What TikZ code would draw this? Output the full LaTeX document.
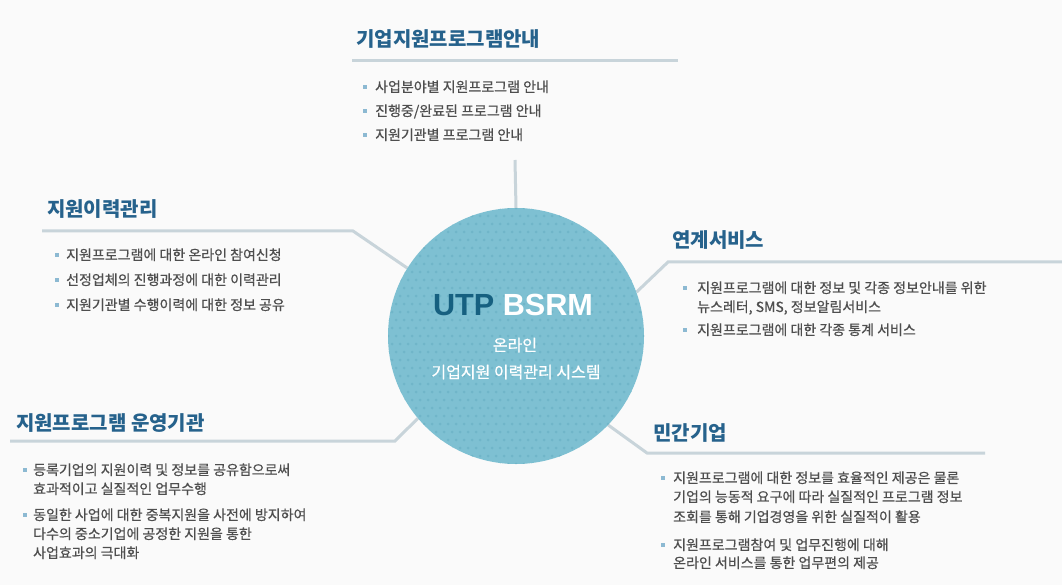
\documentclass[tikz,border=0pt]{standalone}
\usepackage{fontspec}
\setmainfont{Noto Sans CJK KR}
\newfontfamily\bodyfont{Noto Sans CJK KR}[FakeBold=0.6]
\newfontfamily\logofont{Liberation Sans}
\usetikzlibrary{positioning}
\definecolor{titleblue}{RGB}{38,98,140}
\definecolor{bodygray}{RGB}{78,78,78}
\definecolor{rulegray}{RGB}{200,212,218}
\definecolor{bulletblue}{RGB}{140,185,210}
\definecolor{coreblue}{RGB}{126,192,210}
\definecolor{coredot}{RGB}{112,181,201}
\definecolor{utpblue}{RGB}{22,96,128}
\definecolor{paper}{RGB}{250,250,250}

\tikzset{
  heading/.style={anchor=base west, inner sep=0pt, text=titleblue,
    font=\bfseries\fontsize{20bp}{24bp}\selectfont},
  item/.style={anchor=base west, inner sep=0pt, text=bodygray,
    font=\bodyfont\fontsize{14bp}{19bp}\selectfont},
  marker/.style={fill=bulletblue, inner sep=0pt, minimum size=4bp},
  link/.style={draw=rulegray, line width=3bp},
  coretext/.style={anchor=base, inner sep=0pt, text=white,
    font=\bodyfont\fontsize{16bp}{20bp}\selectfont}
}

\begin{document}
\begin{tikzpicture}[x=1bp, y=-1bp]

\useasboundingbox (0,0) rectangle (1062,585);
\fill[paper] (0,0) rectangle (1062,585);

%---------------------------------------
% Connectors
%---------------------------------------
\node[circle, minimum size=256bp, inner sep=0pt] (core) at (516,336) {};

\coordinate (top-w) at (352,61);
\coordinate (top-e) at (678,61);
\coordinate (top-stem) at (515,160);
\draw[link] (top-w) -- (top-e);
\draw[link] (top-stem) -- (core.north);

\coordinate (lu-w) at (42,231);
\coordinate (lu-bend) at (353,231);
\draw[link] (lu-w) -- (lu-bend) -- (core.148);

\coordinate (ll-w) at (10,441);
\coordinate (ll-bend) at (395,441);
\draw[link] (ll-w) -- (ll-bend) -- (core.220);

\coordinate (ru-e) at (1062,262);
\coordinate (ru-bend) at (668,262);
\draw[link] (ru-e) -- (ru-bend) -- (core.20);

\coordinate (rl-e) at (985,453);
\coordinate (rl-bend) at (647,453);
\draw[link] (rl-e) -- (rl-bend) -- (core.-44);

%---------------------------------------
% Centre disc
%---------------------------------------
\fill[coreblue] (core.center) circle[radius=128bp];
\begin{scope}
  \clip (core.center) circle[radius=128bp];
  \foreach \i in {0,...,32}
    \foreach \j in {0,...,32}
      \fill[coredot] ({388+8*\i+4*mod(\j,2)},{208+8*\j}) circle[radius=1.5bp];
\end{scope}

\node[anchor=base, inner sep=0pt,
      font=\logofont\bfseries\fontsize{30.6bp}{36bp}\selectfont] (logo) at (513,316)
      {\textcolor{utpblue}{UTP} \textcolor{white}{BSRM}};
\node[coretext] (sub1) at (515,351) {온라인};
\node[coretext] (sub2) at (516,378) {기업지원 이력관리 시스템};

%---------------------------------------
% Top: programme guide
%---------------------------------------
\node[heading] (guide) at (356,47) {기업지원프로그램안내};
\foreach \y in {87,111,135}
  \node[marker] at (365,\y) {};
\node[item] (guide1) at (375,92) {사업분야별 지원프로그램 안내};
\node[item] (guide2) at (375,116) {진행중/완료된 프로그램 안내};
\node[item] (guide3) at (375,140) {지원기관별 프로그램 안내};

%---------------------------------------
% Left upper: history management
%---------------------------------------
\node[heading] (history) at (47,217) {지원이력관리};
\foreach \y in {255,280,305}
  \node[marker] at (57,\y) {};
\node[item] (history1) at (66,260) {지원프로그램에 대한 온라인 참여신청};
\node[item] (history2) at (66,285) {선정업체의 진행과정에 대한 이력관리};
\node[item] (history3) at (66,310) {지원기관별 수행이력에 대한 정보 공유};

%---------------------------------------
% Right upper: linked services
%---------------------------------------
\node[heading] (service) at (672,248) {연계서비스};
\foreach \y in {288,330}
  \node[marker] at (685,\y) {};
\node[item] (service1a) at (697,293) {지원프로그램에 대한 정보 및 각종 정보안내를 위한};
\node[item] (service1b) at (697,312) {뉴스레터, SMS, 정보알림서비스};
\node[item] (service2) at (697,335) {지원프로그램에 대한 각종 통계 서비스};

%---------------------------------------
% Left lower: operating agencies
%---------------------------------------
\node[heading] (agency) at (16,430) {지원프로그램 운영기관};
\foreach \y in {470,515}
  \node[marker] at (25,\y) {};
\node[item] (agency1a) at (33,475) {등록기업의 지원이력 및 정보를 공유함으로써};
\node[item] (agency1b) at (33,494) {효과적이고 실질적인 업무수행};
\node[item] (agency2a) at (33,520) {동일한 사업에 대한 중복지원을 사전에 방지하여};
\node[item] (agency2b) at (33,539) {다수의 중소기업에 공정한 지원을 통한};
\node[item] (agency2c) at (33,558) {사업효과의 극대화};

%---------------------------------------
% Right lower: private companies
%---------------------------------------
\node[heading] (private) at (653,440) {민간기업};
\foreach \y in {478,545}
  \node[marker] at (663,\y) {};
\node[item] (private1a) at (673,483) {지원프로그램에 대한 정보를 효율적인 제공은 물론};
\node[item] (private1b) at (673,502) {기업의 능동적 요구에 따라 실질적인 프로그램 정보};
\node[item] (private1c) at (673,522) {조회를 통해 기업경영을 위한 실질적이 활용};
\node[item] (private2a) at (673,550) {지원프로그램참여 및 업무진행에 대해};
\node[item] (private2b) at (673,568) {온라인 서비스를 통한 업무편의 제공};

\end{tikzpicture}
\end{document}
